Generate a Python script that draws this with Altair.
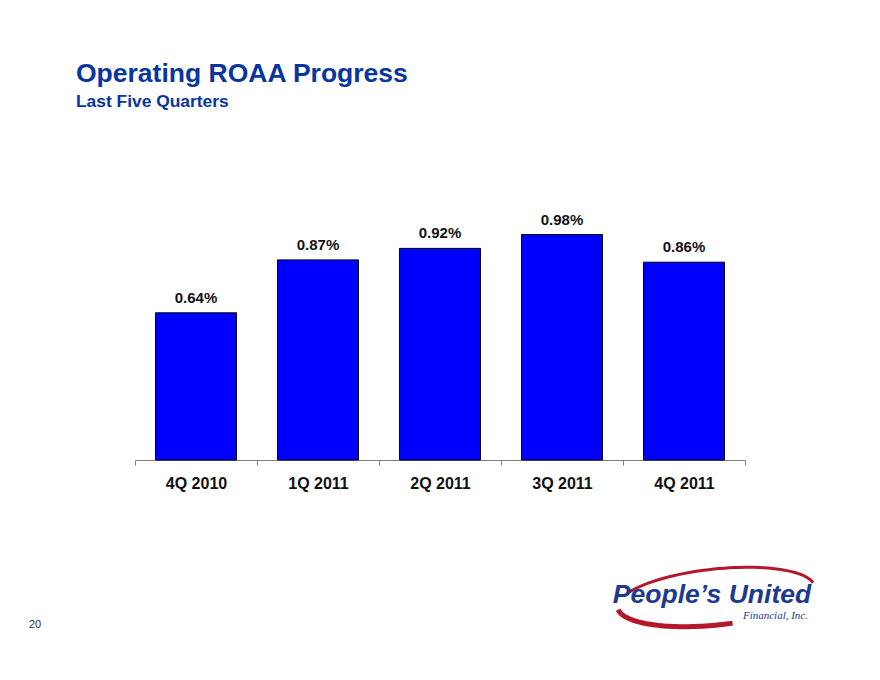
import numpy as np
import pandas as pd
import altair as alt

# ---- data ----
quarters = ["4Q 2010", "1Q 2011", "2Q 2011", "3Q 2011", "4Q 2011"]
roaa = [0.64, 0.87, 0.92, 0.98, 0.86]

title_text = "Operating ROAA Progress"
subtitle_text = "Last Five Quarters"
page_number = "20"
logo_main = "People\u2019s United"
logo_sub = "Financial, Inc."

FONT = "Liberation Sans"
BLUE_TITLE = "#0835a0"
NAVY = "#1d3a8f"
RED = "#b3182b"

df = pd.DataFrame({"quarter": quarters, "value": roaa})

x_enc = alt.X(
    "quarter:N",
    sort=quarters,
    scale=alt.Scale(paddingInner=0, paddingOuter=0),
    axis=alt.Axis(
        labelAngle=0, title=None, domainColor="#808080", tickColor="#808080",
        tickSize=5, labelFontSize=16, labelFontWeight="bold", labelFont=FONT,
        labelColor="#111111", labelPadding=10, tickBand="extent", grid=False,
    ),
)
y_enc = alt.Y("value:Q", scale=alt.Scale(domain=[0, 1.2]), axis=None)

base = alt.Chart(df)
bars = base.mark_bar(
    color="#0000FF", stroke="#000000", strokeWidth=1, width=alt.RelativeBandSize(0.664)
).encode(x=x_enc, y=y_enc)
labels = base.transform_calculate(
    lbl="format(datum.value, '.2f') + '%'"
).mark_text(
    font=FONT, fontSize=15, fontWeight="bold", color="#111111", baseline="bottom", dy=-7
).encode(x=x_enc, y=y_enc, text="lbl:N")


def note(text, x, y, **kw):
    return alt.Chart(pd.DataFrame({"t": [text]})).mark_text(**kw).encode(
        x=alt.value(x), y=alt.value(y), text="t:N"
    )


title = note(title_text, -59, -102, font=FONT, fontSize=26.5, fontWeight="bold",
             color=BLUE_TITLE, align="left", baseline="alphabetic")
subtitle = note(subtitle_text, -59, -77, font=FONT, fontSize=17.4, fontWeight="bold",
                color=BLUE_TITLE, align="left", baseline="alphabetic")
page = note(page_number, -106, 444, font=FONT, fontSize=11, color="#333333",
            align="left", baseline="alphabetic")
logo1 = note(logo_main, 712 - 135, 602.5 - 184, font=FONT, fontSize=26.5, fontWeight="bold",
             fontStyle="italic", color=NAVY, align="center", baseline="alphabetic")
logo2 = note(logo_sub, 808 - 135, 619 - 184, font="Liberation Serif", fontSize=11,
             fontStyle="italic", color=NAVY, align="right", baseline="alphabetic")


def arc_path(t0, t1, rx=0.99, ry=0.28, phi=-6.0, n=48):
    ts = np.radians(np.linspace(t0, t1, n))
    p = np.radians(phi)
    xs = rx * np.cos(ts)
    ys = -ry * np.sin(ts)
    xr = xs * np.cos(p) - ys * np.sin(p)
    yr = xs * np.sin(p) + ys * np.cos(p)
    return "M" + " L".join(f"{a:.4f} {b:.4f}" for a, b in zip(xr, yr))


SW_X, SW_Y = 716 - 135, 597 - 184
swoosh_top = alt.Chart(pd.DataFrame({"k": [1]})).mark_point(
    shape=arc_path(150, 8), size=40000, filled=False, stroke=RED, strokeWidth=3, opacity=1
).encode(x=alt.value(SW_X), y=alt.value(SW_Y))
swoosh_bot = alt.Chart(pd.DataFrame({"k": [1]})).mark_point(
    shape=arc_path(185, 278), size=40000, filled=False, stroke=RED, strokeWidth=5, opacity=1
).encode(x=alt.value(SW_X), y=alt.value(SW_Y))

chart = alt.layer(
    bars, labels, title, subtitle, page, swoosh_top, swoosh_bot, logo1, logo2
).properties(
    width=610, height=276,
    autosize=alt.AutoSizeParams(type="none"),
    padding={"left": 127, "top": 176, "right": 127, "bottom": 212},
    background="white",
).configure_view(stroke=None)

chart.save("out.html", embed_options={"renderer": "svg", "actions": False})
